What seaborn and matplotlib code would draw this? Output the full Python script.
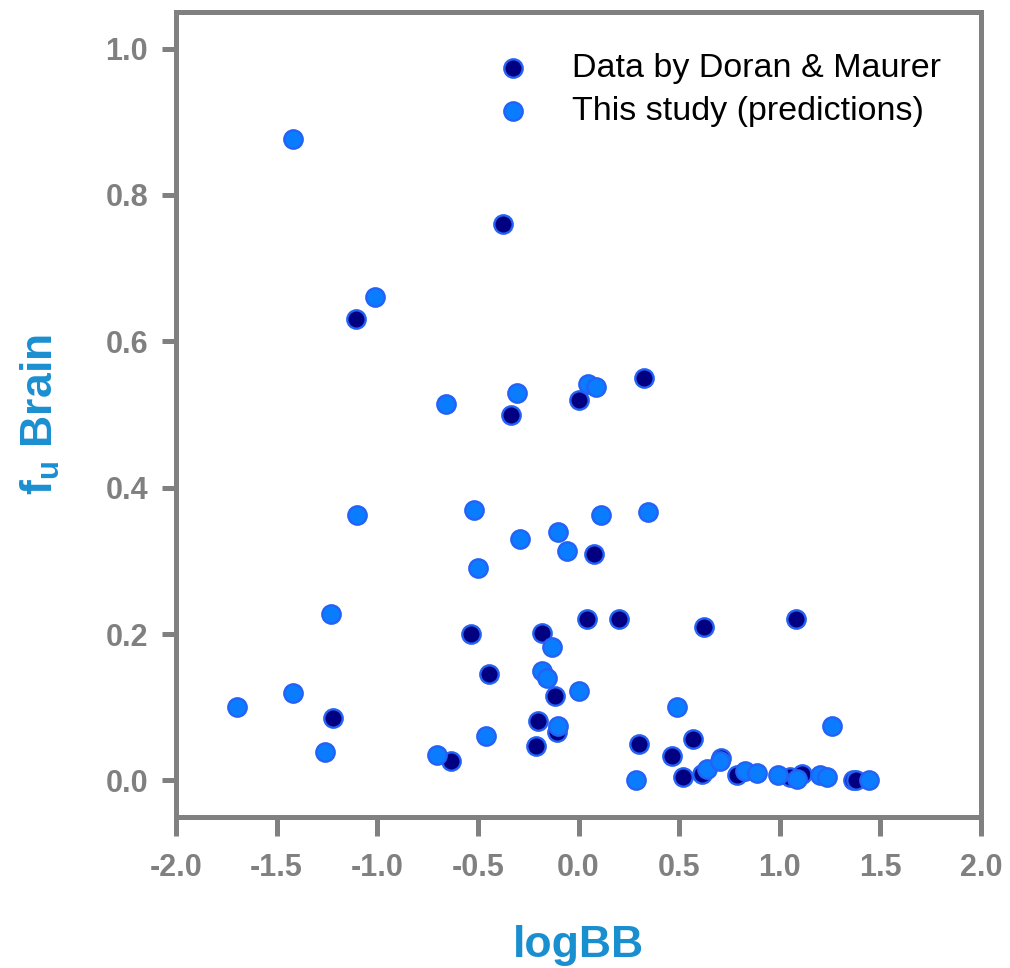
import matplotlib
matplotlib.use("Agg")
import matplotlib.pyplot as plt
import seaborn as sns
import pandas as pd

# Data by Doran & Maurer (measured)
doran_logbb = [-0.377, -1.106, -0.337, 0.001, 0.324, 0.079, -0.536, -0.180, 0.041, 0.203,
               0.624, 1.081, -0.443, -0.118, -0.200, -0.108, -0.213, -0.635, -1.221, 0.302,
               0.463, 0.567, 0.518, 0.612, 0.707, 0.786, 1.051, 1.109, 1.365, 1.379]
doran_fu = [0.760, 0.630, 0.500, 0.520, 0.550, 0.310, 0.200, 0.202, 0.220, 0.220,
            0.210, 0.220, 0.146, 0.116, 0.081, 0.066, 0.047, 0.027, 0.085, 0.050,
            0.033, 0.056, 0.004, 0.009, 0.031, 0.008, 0.005, 0.009, 0.001, 0.001]

# This study (predictions)
pred_logbb = [-1.420, -1.010, -0.658, -0.307, 0.049, 0.085, -1.101, -0.519, -0.291, -0.100,
              -0.059, 0.112, 0.344, -0.498, -1.230, -0.133, -0.180, -0.158, 0.001, -0.100,
              -0.460, -0.702, -1.420, -1.698, -1.260, 0.284, 0.491, 0.640, 0.703, 0.827,
              0.885, 0.993, 1.084, 1.200, 1.233, 1.261, 1.443]
pred_fu = [0.876, 0.660, 0.514, 0.529, 0.541, 0.538, 0.362, 0.369, 0.330, 0.339,
           0.314, 0.362, 0.367, 0.290, 0.227, 0.182, 0.150, 0.140, 0.122, 0.074,
           0.061, 0.035, 0.120, 0.100, 0.039, 0.000, 0.100, 0.016, 0.027, 0.013,
           0.010, 0.007, 0.002, 0.007, 0.005, 0.074, 0.000]

x_ticks = [-2.0, -1.5, -1.0, -0.5, 0.0, 0.5, 1.0, 1.5, 2.0]
y_ticks = [0.0, 0.2, 0.4, 0.6, 0.8, 1.0]

sns.set_style("white")
plt.rcParams['font.family'] = ['Liberation Sans', 'DejaVu Sans']
plt.rcParams['mathtext.fontset'] = 'custom'
plt.rcParams['mathtext.bf'] = 'Liberation Sans:bold'
plt.rcParams['mathtext.rm'] = 'Liberation Sans'

gray = "#808080"
label_blue = "#1a8fd0"
edge_blue = "#2462f5"

fig = plt.figure(figsize=(10.10, 9.68), dpi=100)
ax = fig.add_axes([176 / 1010, 1 - 817 / 968, 805 / 1010, 805 / 968])

df_d = pd.DataFrame({"logBB": doran_logbb, "fu": doran_fu})
df_p = pd.DataFrame({"logBB": pred_logbb, "fu": pred_fu})

sns.scatterplot(data=df_d, x="logBB", y="fu", ax=ax, s=175, color="#000080",
                edgecolor=edge_blue, linewidth=1.7, label="Data by Doran & Maurer",
                legend=False, zorder=3)
sns.scatterplot(data=df_p, x="logBB", y="fu", ax=ax, s=175, color="#0a7cff",
                edgecolor=edge_blue, linewidth=1.7, label="This study (predictions)",
                legend=False, zorder=4)

ax.set_xlim(-2.0, 2.0)
ax.set_ylim(-0.05, 1.05)
ax.set_xticks(x_ticks)
ax.set_yticks(y_ticks)
ax.set_xticklabels([f"{v:.1f}" for v in x_ticks])
ax.set_yticklabels([f"{v:.1f}" for v in y_ticks])

for sp in ax.spines.values():
    sp.set_color(gray)
    sp.set_linewidth(3.6)
    sp.set_visible(True)

ax.tick_params(axis='x', length=14, width=3.6, color=gray, pad=12,
               labelsize=22, labelcolor=gray, direction='out', bottom=True)
ax.tick_params(axis='y', length=10, width=3.6, color=gray, pad=10,
               labelsize=22, labelcolor=gray, direction='out', left=True)
for lab in ax.get_xticklabels() + ax.get_yticklabels():
    lab.set_fontweight('bold')

ax.set_xlabel("logBB", fontsize=32, fontweight='bold', color=label_blue, labelpad=30)
ax.set_ylabel(r"$\mathbf{f_u}$ Brain", fontsize=32, fontweight='bold', color=label_blue, labelpad=31)

leg = ax.legend(loc='upper left', bbox_to_anchor=(0.3975, 0.949), frameon=False,
                fontsize=24.5, handlelength=1.0, handletextpad=1.24, borderpad=0,
                borderaxespad=0, labelspacing=0.36)
for t in leg.get_texts():
    t.set_color("black")

fig.savefig("out.png", dpi=100)
